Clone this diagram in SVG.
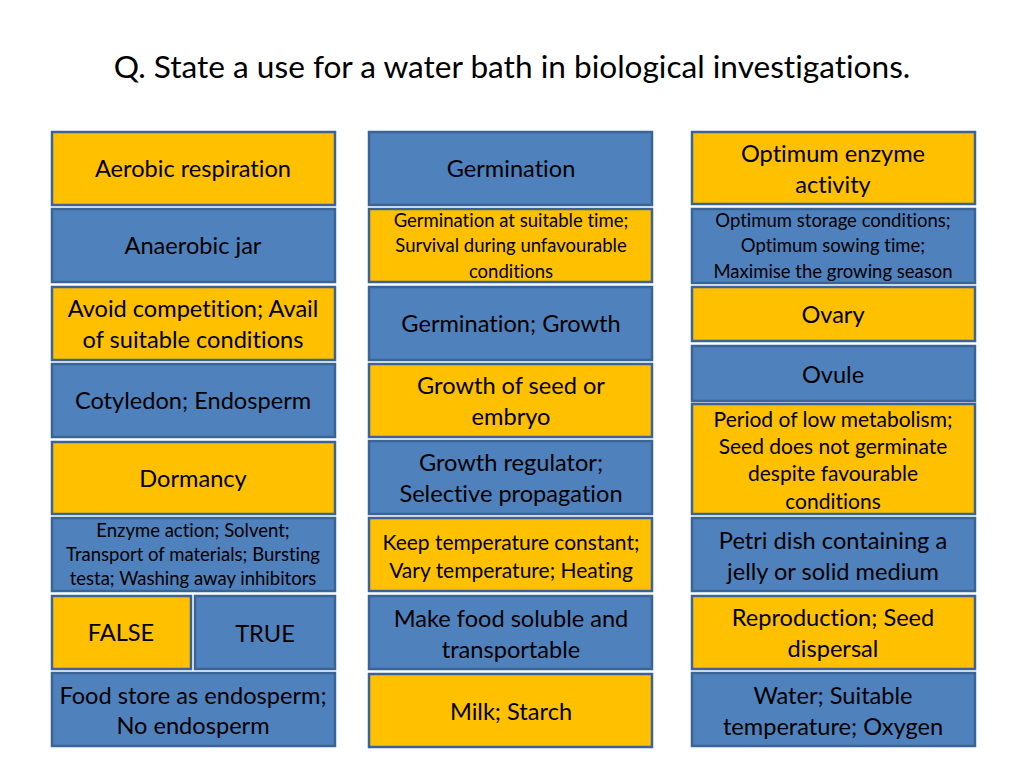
<svg xmlns="http://www.w3.org/2000/svg" width="1024" height="768" viewBox="0 0 1024 768">
<style>
text{font-family:Lato,"Open Sans","Liberation Sans",sans-serif;fill:#000;text-anchor:middle;dominant-baseline:central;font-variant-ligatures:none}
.o{fill:#FFC000;stroke:#3B6496;stroke-width:2.5}
.b{fill:#4F81BD;stroke:#3B6496;stroke-width:2.5}
.t{font-size:23.6px}
.s{font-size:18.5px}
.m{font-size:21px}
.h{font-size:31.6px}
</style>
<rect width="1024" height="768" fill="#fff"/>
<text class="h" x="512" y="66">Q. State a use for a water bath in biological investigations.</text>
<g id="c1" transform="translate(0,-1)">
<g id="n1"><rect class="o" x="52" y="133" width="283" height="73"/><text class="t" x="193" y="169">Aerobic respiration</text></g>
<g id="n2"><rect class="b" x="52" y="210" width="283" height="73"/><text class="t" x="193" y="246">Anaerobic jar</text></g>
<g id="n3"><rect class="o" x="52" y="288" width="283" height="73"/><text class="t" x="193" y="309">Avoid competition; Avail</text><text class="t" x="193" y="340">of suitable conditions</text></g>
<g id="n4"><rect class="b" x="52" y="365" width="283" height="73"/><text class="t" x="193" y="401">Cotyledon; Endosperm</text></g>
<g id="n5"><rect class="o" x="52" y="443" width="283" height="72"/><text class="t" x="193" y="479">Dormancy</text></g>
<g id="n6"><rect class="b" x="52" y="519" width="283" height="73"/><text class="s" x="193" y="531">Enzyme action; Solvent;</text><text class="s" x="193" y="555">Transport of materials; Bursting</text><text class="s" x="193" y="579">testa; Washing away inhibitors</text></g>
<g id="n7"><rect class="o" x="52" y="597" width="139" height="73"/><text class="t" x="121" y="633">FALSE</text></g>
<g id="n8"><rect class="b" x="195" y="597" width="140" height="73"/><text class="t" x="265" y="634">TRUE</text></g>
<g id="n9"><rect class="b" x="52" y="674" width="283" height="73"/><text class="t" x="193" y="696">Food store as endosperm;</text><text class="t" x="193" y="726">No endosperm</text></g>
</g>
<g id="c2" transform="translate(0,-1)">
<g id="n10"><rect class="b" x="369" y="133" width="283" height="73"/><text class="t" x="511" y="169">Germination</text></g>
<g id="n11"><rect class="o" x="369" y="210" width="283" height="73"/><text class="s" x="511" y="221">Germination at suitable time;</text><text class="s" x="511" y="246">Survival during unfavourable</text><text class="s" x="511" y="272">conditions</text></g>
<g id="n12"><rect class="b" x="369" y="288" width="283" height="73"/><text class="t" x="511" y="324">Germination; Growth</text></g>
<g id="n13"><rect class="o" x="369" y="365" width="283" height="73"/><text class="t" x="511" y="386">Growth of seed or</text><text class="t" x="511" y="417">embryo</text></g>
<g id="n14"><rect class="b" x="369" y="442" width="283" height="73"/><text class="t" x="511" y="463">Growth regulator;</text><text class="t" x="511" y="494">Selective propagation</text></g>
<g id="n15"><rect class="o" x="369" y="519" width="283" height="73"/><text class="m" x="511" y="542">Keep temperature constant;</text><text class="m" x="511" y="570">Vary temperature; Heating</text></g>
<g id="n16"><rect class="b" x="369" y="597" width="283" height="73"/><text class="t" x="511" y="619">Make food soluble and</text><text class="t" x="511" y="650">transportable</text></g>
<g id="n17"><rect class="o" x="369" y="675" width="283" height="73"/><text class="t" x="511" y="712">Milk; Starch</text></g>
</g>
<g id="c3" transform="translate(0,-1)">
<g id="n18"><rect class="o" x="692" y="133" width="283" height="72"/><text class="t" x="833" y="154">Optimum enzyme</text><text class="t" x="833" y="185">activity</text></g>
<g id="n19"><rect class="b" x="692" y="210" width="283" height="74"/><text class="s" x="833" y="221">Optimum storage conditions;</text><text class="s" x="833" y="246">Optimum sowing time;</text><text class="s" x="833" y="272">Maximise the growing season</text></g>
<g id="n20"><rect class="o" x="692" y="288" width="283" height="54"/><text class="t" x="833" y="315">Ovary</text></g>
<g id="n21"><rect class="b" x="692" y="347" width="283" height="55"/><text class="t" x="833" y="375">Ovule</text></g>
<g id="n22"><rect class="o" x="692" y="405" width="283" height="110"/><text class="m" x="833" y="419">Period of low metabolism;</text><text class="m" x="833" y="446">Seed does not germinate</text><text class="m" x="833" y="473">despite favourable</text><text class="m" x="833" y="501">conditions</text></g>
<g id="n23"><rect class="b" x="692" y="519" width="283" height="73"/><text class="t" x="833" y="541">Petri dish containing a</text><text class="t" x="833" y="572">jelly or solid medium</text></g>
<g id="n24"><rect class="o" x="692" y="597" width="283" height="73"/><text class="t" x="833" y="618">Reproduction; Seed</text><text class="t" x="833" y="649">dispersal</text></g>
<g id="n25"><rect class="b" x="692" y="674" width="283" height="73"/><text class="t" x="833" y="696">Water; Suitable</text><text class="t" x="833" y="727">temperature; Oxygen</text></g>
</g>
<g id="connectors"/>
</svg>
